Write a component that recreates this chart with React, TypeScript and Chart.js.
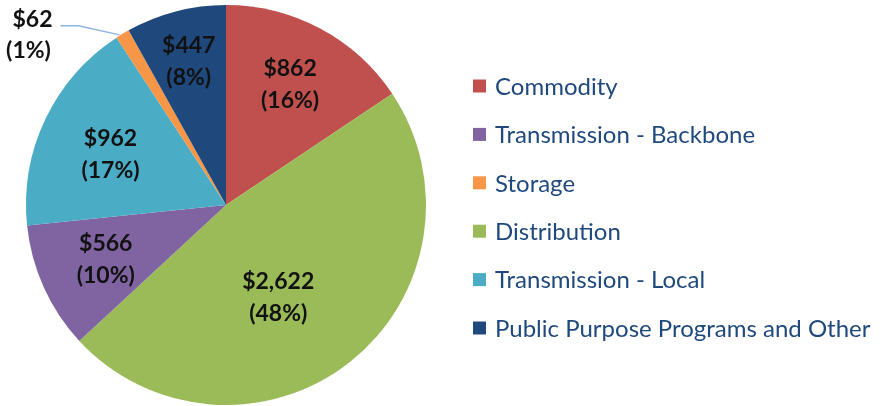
import React, { useEffect, useRef } from 'react';
import { Chart, registerables } from 'chart.js';

Chart.register(...registerables);

// ---- data ----
const categories = [
  'Commodity',
  'Distribution',
  'Transmission - Backbone',
  'Transmission - Local',
  'Storage',
  'Public Purpose Programs and Other',
];
const values = [862, 2622, 566, 962, 62, 447];
const valueLabels = ['$862', '$2,622', '$566', '$962', '$62', '$447'];
const percentLabels = ['(16%)', '(48%)', '(10%)', '(17%)', '(1%)', '(8%)'];
const legendOrder = [
  'Commodity',
  'Transmission - Backbone',
  'Storage',
  'Distribution',
  'Transmission - Local',
  'Public Purpose Programs and Other',
];

// ---- styles ----
const colors = ['#C0504D', '#9BBB59', '#8064A2', '#4BACC6', '#F79646', '#1F497D'];
const FONT = 'Lato, "Open Sans", sans-serif';
const LABEL_FONT_SIZE = 23;
const LEGEND_FONT_SIZE = 24;
const LEGEND_TEXT_COLOR = '#1F497D';
// label placement (index-aligned): fraction of radius and angular shift in degrees
const labelRadiusFraction = [0.68, 0.53, 0.66, 0.63, 1.0, 0.74];
const labelAngleShift = [0, 8.8, 0, -1.9, 0, 0];

const overlayPlugin = {
  id: 'overlay',
  afterDraw(chart: any) {
    const ctx = chart.ctx;
    const meta = chart.getDatasetMeta(0);
    ctx.save();
    // data labels
    ctx.font = `bold ${LABEL_FONT_SIZE}px ${FONT}`;
    ctx.fillStyle = '#111';
    ctx.textAlign = 'center';
    ctx.textBaseline = 'middle';
    const lineGap = 32;
    meta.data.forEach((arc: any, i: number) => {
      const { x, y, startAngle, endAngle, outerRadius } = arc.getProps(
        ['x', 'y', 'startAngle', 'endAngle', 'outerRadius'],
        true
      );
      const mid = (startAngle + endAngle) / 2 + (labelAngleShift[i] * Math.PI) / 180;
      if (categories[i] === 'Storage') {
        const ax = x + Math.cos(mid) * outerRadius;
        const ay = y + Math.sin(mid) * outerRadius;
        ctx.strokeStyle = '#8DB4E2';
        ctx.lineWidth = 1.5;
        ctx.beginPath();
        ctx.moveTo(ax - 3, ay + 1);
        ctx.lineTo(ax - 44, ay - 8);
        ctx.lineTo(ax - 62, ay - 8);
        ctx.stroke();
        const lx = ax - 90;
        const ly = ay - 14;
        ctx.fillText(valueLabels[i], lx, ly);
        ctx.fillText(percentLabels[i], lx - 4, ly + 31);
        return;
      }
      const r = outerRadius * labelRadiusFraction[i];
      const cx = x + Math.cos(mid) * r;
      const cy = y + Math.sin(mid) * r;
      ctx.fillText(valueLabels[i], cx, cy - lineGap / 2);
      ctx.fillText(percentLabels[i], cx, cy + lineGap / 2);
    });

    // legend
    const area = chart.chartArea;
    const boxX = area.right + 47;
    const textX = boxX + 22;
    const startY = 86;
    const step = 48.4;
    const box = 13;
    ctx.font = `${LEGEND_FONT_SIZE}px ${FONT}`;
    ctx.textAlign = 'left';
    ctx.textBaseline = 'middle';
    legendOrder.forEach((name, k) => {
      const idx = categories.indexOf(name);
      const cy = startY + k * step;
      ctx.fillStyle = colors[idx];
      ctx.fillRect(boxX, cy - box / 2, box, box);
      ctx.fillStyle = LEGEND_TEXT_COLOR;
      ctx.fillText(name, textX, cy + 1);
    });
    ctx.restore();
  },
};

export default function App() {
  const canvasRef = useRef<HTMLCanvasElement | null>(null);

  useEffect(() => {
    document.body.style.margin = '0';
    const canvas = canvasRef.current;
    if (!canvas) return;
    const chart = new Chart(canvas, {
      type: 'pie',
      data: {
        labels: categories,
        datasets: [
          {
            data: values,
            backgroundColor: colors,
            borderWidth: 0,
          },
        ],
      },
      options: {
        responsive: false,
        animation: false,
        layout: { padding: { left: 26, right: 461, top: 5, bottom: 1 } },
        plugins: {
          legend: { display: false },
          tooltip: { enabled: false },
        },
      },
      plugins: [overlayPlugin],
    });
    return () => chart.destroy();
  }, []);

  return (
    <div style={{ position: 'absolute', left: 0, top: 0, width: 887, height: 406, background: '#fff' }}>
      <canvas ref={canvasRef} width={887} height={406} style={{ width: 887, height: 406 }} />
    </div>
  );
}
